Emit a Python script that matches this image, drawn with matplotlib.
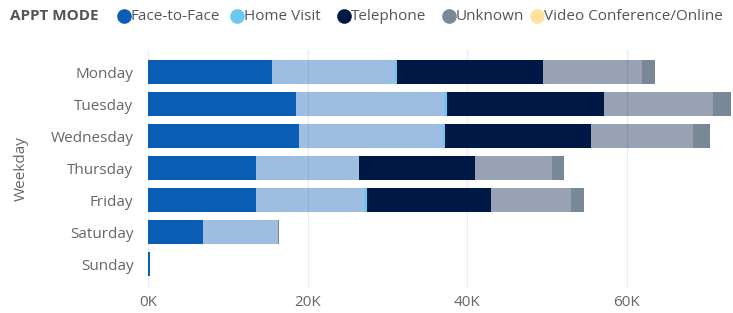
import numpy as np
import matplotlib.pyplot as plt
from matplotlib.lines import Line2D

plt.rcParams['font.family'] = ['Open Sans', 'DejaVu Sans']

weekdays = ["Monday", "Tuesday", "Wednesday", "Thursday", "Friday", "Saturday", "Sunday"]
modes = ["Face-to-Face", "Home Visit", "Telephone", "Unknown", "Video Conference/Online"]
colors = ["#0B5EB5", "#6CC8F0", "#001846", "#798896", "#FFE1A0"]

# values in thousands; highlighted part and the remaining (dimmed) part
highlighted = {
    "Face-to-Face": [15.5, 18.56, 18.97, 13.5, 13.5, 6.86, 0.2],
    "Home Visit": [0.2, 0.31, 0.15, 0.06, 0.34, 0.0, 0.0],
    "Telephone": [18.35, 19.79, 18.37, 14.52, 15.55, 0.05, 0.0],
    "Unknown": [1.63, 2.19, 2.09, 1.58, 1.63, 0.1, 0.0],
    "Video Conference/Online": [0.0, 0.0, 0.0, 0.0, 0.0, 0.0, 0.0],
}
remainder = {
    "Face-to-Face": [15.47, 18.56, 18.06, 12.92, 13.58, 9.4, 0.0],
    "Home Visit": [0.0, 0.0, 0.0, 0.0, 0.0, 0.0, 0.0],
    "Telephone": [12.45, 13.66, 12.83, 9.62, 10.07, 0.05, 0.0],
    "Unknown": [0.0, 0.0, 0.0, 0.0, 0.0, 0.0, 0.0],
    "Video Conference/Online": [0.0, 0.0, 0.0, 0.0, 0.0, 0.0, 0.0],
}
xticks = [0, 20, 40, 60]
xtick_labels = ["0K", "20K", "40K", "60K"]

fig = plt.figure(figsize=(7.33, 3.13), dpi=100)
W, H = 733, 313
ax = fig.add_axes([148 / W, 1 - 288 / H, (733 - 148) / W, (288 - 50) / H])

y = np.arange(len(weekdays))
left = np.zeros(len(weekdays))
for mode, color in zip(modes, colors):
    hi = np.array(highlighted[mode])
    lo = np.array(remainder[mode])
    ax.barh(y, hi, left=left, height=0.78, color=color, zorder=3)
    left += hi
    ax.barh(y, lo, left=left, height=0.78, color=color, alpha=0.4, zorder=3)
    left += lo

ax.set_xlim(0, 73.35)
ax.set_ylim(6.75, -0.6875)
ax.set_xticks(xticks)
ax.set_xticklabels(xtick_labels)
ax.set_yticks(y)
ax.set_yticklabels(weekdays)
ax.grid(axis="x", color="#E6E6E6", linewidth=1, zorder=0)
ax.grid(axis="x", color="#C8CDD6", linewidth=1, alpha=0.35, zorder=4)
ax.set_axisbelow(False)
for s in ax.spines.values():
    s.set_visible(False)
ax.tick_params(axis="both", length=0, colors="#666666", labelsize=11)
ax.tick_params(axis="y", pad=10.5)
ax.tick_params(axis="x", pad=5)
ax.set_ylabel("Weekday", color="#666666", fontsize=11, labelpad=16)

# legend row
fig.text(10 / W, 1 - 16 / H, "APPT MODE", fontsize=11, fontweight="bold",
         color="#555555", va="center", ha="left")
legend_x = [124, 237, 344, 449, 537]
for mode, color, lx in zip(modes, colors, legend_x):
    fig.add_artist(Line2D([lx / W], [1 - 16 / H], marker="o", markersize=9.5,
                          markerfacecolor=color, markeredgecolor=color,
                          linestyle="", transform=fig.transFigure))
    fig.text((lx + 7) / W, 1 - 16 / H, mode, fontsize=11, color="#555555",
             va="center", ha="left")

fig.savefig("out.png", dpi=100)
